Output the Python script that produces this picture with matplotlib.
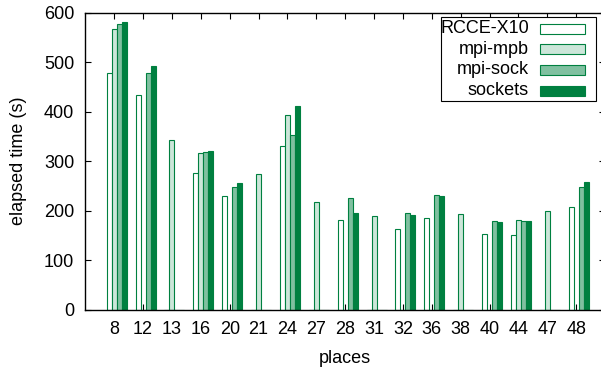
import numpy as np
import matplotlib
matplotlib.use("Agg")
import matplotlib.pyplot as plt
from matplotlib.patches import Rectangle

plt.rcParams['font.family'] = ['Liberation Sans', 'DejaVu Sans']

# data
places = ["8", "12", "13", "16", "20", "21", "24", "27", "28", "31",
          "32", "36", "38", "40", "44", "47", "48"]
rcce_x10 = [478, 434, 0, 276, 230, 0, 331, 0, 181, 0, 162, 185, 0, 153, 151, 0, 207]
mpi_mpb = [568, 0, 343, 317, 0, 274, 393, 218, 0, 189, 0, 0, 193, 0, 181, 199, 0]
mpi_sock = [577, 478, 0, 319, 248, 0, 352, 0, 226, 0, 195, 232, 0, 179, 180, 0, 248]
sockets = [582, 492, 0, 321, 256, 0, 411, 0, 195, 0, 191, 229, 0, 176, 180, 0, 258]

series = [("RCCE-X10", rcce_x10, "#ffffff"),
          ("mpi-mpb", mpi_mpb, "#cce6d9"),
          ("mpi-sock", mpi_sock, "#80c0a0"),
          ("sockets", sockets, "#008040")]
edge = "#008040"
fs = 13

fig = plt.figure(figsize=(6.01, 3.73), dpi=100)
ax = fig.add_axes([0.142, 0.170, 0.8648, 0.796])

x = np.arange(len(places))
w = 0.173
for i, (name, vals, fc) in enumerate(series):
    ax.bar(x + (i - 1) * w, vals, width=w, color=fc, edgecolor=edge,
           linewidth=0.8, zorder=2)

ax.set_xlim(-1, 17)
ax.set_ylim(0, 600)
ax.set_xticks(x)
ax.set_xticklabels(places)
ax.set_yticks(np.arange(0, 601, 100))
ax.set_axisbelow(True)

ax.tick_params(axis='both', direction='in', length=4, width=0.8,
               top=True, right=True, labelsize=fs, colors='black')
ax.tick_params(axis='x', pad=8)
ax.tick_params(axis='y', pad=8)
ax.spines['right'].set_visible(False)
for s in ['left', 'top', 'bottom']:
    ax.spines[s].set_linewidth(1.0)

ax.set_xlabel("places", fontsize=fs, labelpad=9)
ax.set_ylabel("elapsed time (s)", fontsize=fs, labelpad=12)

# legend box, gnuplot style (text right aligned, swatch on the right)
ax.add_patch(Rectangle((0.684, 0.7035), 0.2986, 0.282, transform=ax.transAxes,
                       facecolor='white', edgecolor='black', linewidth=0.8,
                       zorder=5, clip_on=False))
rows = [0.946, 0.877, 0.807, 0.737]
for (name, vals, fc), yy in zip(series, rows):
    ax.add_patch(Rectangle((0.8748, yy - 0.0168), 0.0866, 0.0337,
                           transform=ax.transAxes, facecolor=fc, edgecolor=edge,
                           linewidth=0.8, zorder=6, clip_on=False))
    ax.text(0.8537, yy, name, transform=ax.transAxes, ha='right', va='center',
            fontsize=fs, zorder=7)

fig.savefig("out.png", dpi=100)
